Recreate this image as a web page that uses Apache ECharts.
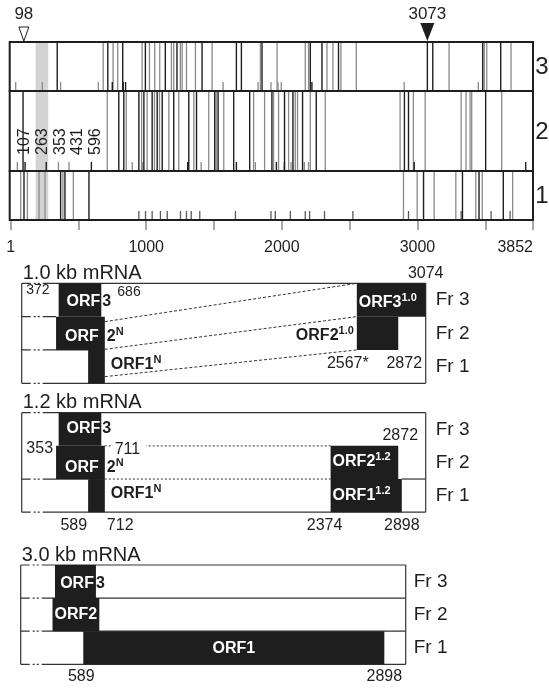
<!DOCTYPE html>
<html>
<head>
<meta charset="utf-8">
<script src="https://cdn.jsdelivr.net/npm/echarts@6/dist/echarts.min.js"></script>
<style>
  html, body { margin: 0; padding: 0; background: #fff; }
  #chart { width: 549px; height: 689px; }
</style>
</head>
<body>
<div id="chart"></div>
<script>
// ---------- genome scale ----------
const genomeMin = 1;
const genomeMax = 3852;
const scaleTicks = [1, 500, 1000, 1500, 2000, 2500, 3000, 3500, 3852];
const scaleLabels = [1, 1000, 2000, 3000, 3852];

// ---------- stop codons (full height) and start codons (short ticks), per frame ----------
const fr3StopDark = [344, 717, 827, 994, 1141, 1227, 1412, 1665, 1702, 1854, 2210, 2296, 2418, 3073, 3113, 3481, 3614];
const fr3StopGrey = [683, 756, 790, 970, 1024, 1063, 1100, 1186, 1203, 1252, 1265, 1297, 1363, 1486, 1842, 1965, 2173, 2197, 2333, 2377, 2436, 2549, 3233, 3493, 3511, 3690];
const fr3StartDark = [750, 830, 848, 2222];
const fr3StartGrey = [38, 234, 369, 647, 1567, 1825, 1920, 1972, 1996, 2902, 3449];

const fr2StopDark = [92, 798, 835, 946, 983, 1044, 1081, 1118, 1203, 1314, 1371, 1505, 1530, 1645, 1763, 1927, 2020, 2082, 2153, 2254, 2904, 2934, 3503];
const fr2StopGrey = [713, 853, 966, 1007, 1061, 1098, 1167, 1240, 1351, 1461, 1516, 1572, 1792, 1873, 1939, 1976, 2050, 2099, 2116, 2210, 2320, 2872, 2970, 3057, 3322, 3358, 3388, 3400, 3621];
const fr2StartDark = [107, 263, 596, 1306, 1665, 1960, 2019, 2976, 3798];
const fr2StartGrey = [50, 353, 431, 897, 975, 1405, 1805, 2068, 2166, 2197];
const fr2StartLabels = [107, 263, 353, 431, 596];

const fr1StopDark = [99, 369, 401, 578, 3045, 3332, 3454, 3633];
const fr1StopGrey = [75, 124, 210, 254, 386, 463, 2897, 2998, 3123, 3283, 3430, 3478, 3702];
const fr1StartGrey = [946, 995, 1044, 1105, 1155, 1253, 1297, 1332, 1395, 1658, 1920, 1952, 2063, 2173, 2205, 2315, 2524, 2934, 3322, 3543, 3683];

const shadedRegion = [185, 278];
const siteOpen = 98;      // open triangle
const siteFilled = 3073;  // filled triangle

// ---------- transcripts: ORF blocks [start, end, frame] ----------
const orfs10 = [[372, 686, 3], [353, 712, 2], [589, 712, 1], [2567, 3074, 3], [2567, 2872, 2]];
const orfs12 = [[372, 686, 3], [353, 712, 2], [589, 712, 1], [2374, 2872, 2], [2374, 2898, 1]];
const orfs30 = [[372, 686, 3], [353, 712, 2], [589, 2898, 1]];

// splice connections [fromPos, fromLevel, toPos, toLevel]
const splice10 = [[712, 1.85, 2567, 3], [712, 1.02, 2567, 2], [712, 0.2, 2567, 1]];
const splice12 = [[711, 2, 2374, 2], [712, 1, 2374, 1]];

const FONT = '"Liberation Sans", Arial, Helvetica, sans-serif';
const INK = '#1e1e1e';
const GREY = '#8a8a8a';

// ---------- layout ----------
const topRows = [
  { frame: 3, top: 42, height: 49 },
  { frame: 2, top: 91, height: 80 },
  { frame: 1, top: 171, height: 49 }
];
const panels = [
  { title: '1.0 kb mRNA', top: 283.3, height: 100, left: 21.7, width: 404, min: 100, max: 3074, frGap: 10 },
  { title: '1.2 kb mRNA', top: 412.7, height: 99.5, left: 21.7, width: 404, min: 100, max: 3074, frGap: 10 },
  { title: '3.0 kb mRNA', top: 565, height: 99.3, left: 20.7, width: 385, min: 109, max: 3062, frGap: 8 }
];

const grids = [], xAxes = [], yAxes = [], series = [];

topRows.forEach((r, i) => {
  grids.push({ left: 10.7, width: 522.3, top: r.top, height: r.height });
  const isBottom = i === topRows.length - 1;
  xAxes.push({
    gridIndex: i, type: 'value', min: genomeMin, max: genomeMax, show: isBottom,
    position: 'bottom', offset: 7,
    axisLine: { show: true, lineStyle: { color: '#8c8c8c', width: 2 } },
    axisTick: { show: true, length: 10, customValues: scaleTicks, lineStyle: { color: '#8c8c8c', width: 1.5 } },
    axisLabel: {
      show: true, customValues: scaleLabels, margin: 13, color: INK, fontSize: 16, fontFamily: FONT,
      alignMaxLabel: 'right', formatter: v => String(v)
    },
    splitLine: { show: false }
  });
  yAxes.push({ gridIndex: i, type: 'value', min: 0, max: 1, show: false });
});
panels.forEach((p, k) => {
  const i = topRows.length + k;
  grids.push({ left: p.left, width: p.width, top: p.top, height: p.height });
  xAxes.push({ gridIndex: i, type: 'value', min: p.min, max: p.max, show: false });
  yAxes.push({ gridIndex: i, type: 'value', min: 0, max: 3, show: false });
});

// ---------- series builders ----------
function base(grid, z) {
  return { type: 'custom', coordinateSystem: 'cartesian2d', xAxisIndex: grid, yAxisIndex: grid, silent: true, animation: false, z: z };
}
function vlines(grid, positions, color, width, tickLen, z) {
  return Object.assign(base(grid, z || 3), {
    data: positions.map(v => [v, 0]),
    renderItem(params, api) {
      const a = api.coord([api.value(0), 0]);
      const y2 = tickLen ? a[1] - tickLen : api.coord([api.value(0), 1])[1];
      return { type: 'line', shape: { x1: a[0], y1: a[1], x2: a[0], y2: y2 }, style: { stroke: color, lineWidth: width } };
    }
  });
}
function segments(grid, data, style, z) {
  return Object.assign(base(grid, z || 3), {
    data: data,
    renderItem(params, api) {
      const a = api.coord([api.value(0), api.value(1)]);
      const b = api.coord([api.value(2), api.value(3)]);
      return { type: 'line', shape: { x1: a[0], y1: a[1], x2: b[0], y2: b[1] }, style: Object.assign({}, style) };
    }
  });
}
function blocks(grid, data, z) {
  return Object.assign(base(grid, z || 4), {
    data: data,
    renderItem(params, api) {
      const f = api.value(2);
      const a = api.coord([api.value(0), f]);
      const b = api.coord([api.value(1), f - 1]);
      return { type: 'rect', shape: { x: a[0], y: a[1], width: b[0] - a[0], height: b[1] - a[1] }, style: { fill: INK } };
    }
  });
}
const SUP = { fontSize: 11, fontWeight: 'bold', fontFamily: FONT, verticalAlign: 'top', lineHeight: 10 };
function texts(grid, items, z) {
  return Object.assign(base(grid, z || 6), {
    data: items.map(it => [it.x, it.y]),
    renderItem(params, api) {
      const it = items[params.dataIndex];
      const pt = api.coord([it.x, it.y]);
      const fill = it.fill || INK;
      const size = it.size || 16;
      const style = {
        text: it.text, x: 0, y: 0, fill: fill,
        fontSize: size, fontFamily: FONT, fontWeight: it.bold ? 'bold' : 'normal',
        align: it.align || 'center', verticalAlign: it.va || 'middle', lineHeight: it.bold ? size + 4 : size + 1,
        rich: { s: Object.assign({ fill: fill }, SUP) }
      };
      if (it.bg) { style.backgroundColor = it.bg; style.padding = it.pad || [0, 0, 0, 0]; }
      return { type: 'text', x: pt[0] + (it.dx || 0), y: pt[1] + (it.dy || 0), rotation: it.rot || 0, style: style };
    }
  });
}

// ---------- top panel: three reading frames ----------
const frameSets = [
  { dark: fr3StopDark, grey: fr3StopGrey, tDark: fr3StartDark, tGrey: fr3StartGrey },
  { dark: fr2StopDark, grey: fr2StopGrey, tDark: fr2StartDark, tGrey: fr2StartGrey },
  { dark: fr1StopDark, grey: fr1StopGrey, tDark: [], tGrey: fr1StartGrey }
];
frameSets.forEach((s, i) => {
  // shaded window
  series.push(Object.assign(base(i, 1), {
    data: [[shadedRegion[0], shadedRegion[1]]],
    renderItem(params, api) {
      const a = api.coord([api.value(0), 1]);
      const b = api.coord([api.value(1), 0]);
      return { type: 'rect', shape: { x: a[0], y: a[1], width: b[0] - a[0], height: b[1] - a[1] }, style: { fill: '#d3d3d3' } };
    }
  }));
  series.push(vlines(i, s.grey, GREY, 1.3, 0, 2));
  series.push(vlines(i, s.dark, INK, 1.4, 0, 3));
  series.push(vlines(i, s.tGrey, i === 2 ? '#5a5a5a' : GREY, 1.3, 9, 2));
  series.push(vlines(i, s.tDark, INK, 1.4, 9, 3));
  // frame outline and frame number
  series.push(Object.assign(base(i, 8), {
    data: [[genomeMin, 0]],
    renderItem(params) {
      const c = params.coordSys;
      return {
        type: 'group', children: [
          { type: 'rect', shape: { x: c.x - 1, y: c.y, width: c.width + 1, height: c.height }, style: { fill: 'none', stroke: INK, lineWidth: 2 } },
          { type: 'text', x: c.x + c.width + 9, y: c.y + c.height / 2 + 1, style: { text: String(topRows[i].frame), fill: INK, fontSize: 24, fontFamily: FONT, align: 'center', verticalAlign: 'middle' } }
        ]
      };
    }
  }));
});

// site markers above frame 3
series.push(Object.assign(base(0, 9), {
  data: [[siteOpen, 0], [siteFilled, 1]],
  renderItem(params, api) {
    const filled = api.value(1) === 1;
    const p = api.coord([api.value(0), 1]);
    const apex = p[1] - 1, topY = filled ? p[1] - 19 : p[1] - 15, hw = filled ? 7 : 5;
    return {
      type: 'group', children: [
        { type: 'polygon', shape: { points: [[p[0] - hw, topY], [p[0] + hw, topY], [p[0], apex]] },
          style: filled ? { fill: INK } : { fill: '#fff', stroke: INK, lineWidth: 1 } },
        { type: 'text', x: p[0], y: 14, style: { text: String(api.value(0)), fill: INK, fontSize: 17, fontFamily: FONT, align: 'center', verticalAlign: 'middle' } }
      ]
    };
  }
}));

// start-codon positions written vertically in frame 2
series.push(Object.assign(base(1, 9), {
  data: fr2StartLabels.map(v => [v, 0]),
  renderItem(params, api) {
    const first = api.coord([fr2StartLabels[0], 0]);
    const x = first[0] + params.dataIndex * 17.6;
    return { type: 'text', x: x, y: first[1] - 16, rotation: Math.PI / 2,
      style: { text: String(api.value(0)), x: 0, y: 0, fill: INK, fontSize: 16, fontFamily: FONT, align: 'left', verticalAlign: 'middle' } };
  }
}));

// ---------- transcript panels ----------
function panelFrame(grid, p, hLines) {
  // box edges and row dividers
  series.push(segments(grid, hLines, { stroke: '#333', lineWidth: 1.2 }, 3));
  // broken-line marks near the 5' end of each horizontal line
  series.push(Object.assign(base(grid, 5), {
    data: hLines.filter(h => h[0] === p.min && h[1] === h[3]).map(h => [h[0], h[1]]),
    renderItem(params, api) {
      const a = api.coord([api.value(0), api.value(1)]);
      const gaps = [[9, 3], [14, 2], [18, 3]];
      return { type: 'group', children: gaps.map(g => ({ type: 'rect', shape: { x: a[0] + g[0], y: a[1] - 2, width: g[1], height: 4 }, style: { fill: '#fff' } })) };
    }
  }));
  // title and frame names
  const items = [{ x: p.min, y: 3, text: p.title, align: 'left', dx: 1, dy: -10, size: 20 }];
  [3, 2, 1].forEach(f => items.push({ x: p.max, y: f - 0.5, text: 'Fr ' + f, align: 'left', dx: p.frGap, size: 19 }));
  return items;
}

// 1.0 kb
{
  const g = 3, p = panels[0];
  const items = panelFrame(g, p, [
    [p.min, 3, p.max, 3], [p.min, 0, p.max, 0], [p.min, 0, p.min, 3], [p.max, 0, p.max, 3],
    [p.min, 2, orfs10[1][0], 2], [p.min, 1, orfs10[2][0], 1]
  ]);
  series.push(blocks(g, orfs10));
  series.push(segments(g, splice10, { stroke: '#333', lineWidth: 1, lineDash: [3, 2] }, 3));
  const W = '#fff';
  items.push(
    { x: orfs10[0][1], y: 2.5, text: 'ORF', align: 'right', dx: -1, dy: 2, bold: true, fill: W },
    { x: orfs10[0][1], y: 2.5, text: '3', align: 'left', dx: 1, dy: 2, bold: true },
    { x: orfs10[1][1], y: 1.5, text: 'ORF', align: 'right', dx: -6, dy: 3, bold: true, fill: W },
    { x: orfs10[1][1], y: 1.5, text: '2{s|N}', align: 'left', dx: 2, dy: 3, bold: true },
    { x: orfs10[2][1], y: 0.5, text: 'ORF1{s|N}', align: 'left', dx: 6, dy: -2, bold: true },
    { x: orfs10[3][0], y: 2.5, text: 'ORF3{s|1.0}', align: 'left', dx: 2, dy: 3, bold: true, fill: W },
    { x: orfs10[4][0], y: 1.5, text: 'ORF2{s|1.0}', align: 'right', dx: -3, dy: 2, bold: true },
    { x: orfs10[0][0], y: 3, text: String(orfs10[0][0]), align: 'right', dx: -9, dy: 7, size: 14 },
    { x: orfs10[0][1], y: 3, text: String(orfs10[0][1]), align: 'left', dx: 16, dy: 9, size: 14 },
    { x: orfs10[3][1], y: 3, text: String(orfs10[3][1]), dy: -10 },
    { x: orfs10[3][0], y: 0.5, text: orfs10[3][0] + '*', dx: -9, dy: -3 },
    { x: orfs10[4][1], y: 0.5, text: String(orfs10[4][1]), dx: 6, dy: -3 }
  );
  series.push(texts(g, items));
}

// 1.2 kb
{
  const g = 4, p = panels[1];
  const items = panelFrame(g, p, [
    [p.min, 3, p.max, 3], [p.min, 0, p.max, 0], [p.min, 0, p.min, 3], [p.max, 0, p.max, 3],
    [p.min, 1, orfs12[2][0], 1], [orfs12[4][1], 1, p.max, 1]
  ]);
  series.push(blocks(g, orfs12));
  series.push(segments(g, splice12, { stroke: '#333', lineWidth: 1, lineDash: [2, 2] }, 3));
  const W = '#fff';
  items.push(
    { x: orfs12[0][1], y: 2.5, text: 'ORF', align: 'right', dx: -1, dy: -1, bold: true, fill: W },
    { x: orfs12[0][1], y: 2.5, text: '3', align: 'left', dx: 1, dy: -1, bold: true },
    { x: orfs12[1][1], y: 1.5, text: 'ORF', align: 'right', dx: -6, dy: 5, bold: true, fill: W },
    { x: orfs12[1][1], y: 1.5, text: '2{s|N}', align: 'left', dx: 2, dy: 5, bold: true },
    { x: orfs12[2][1], y: 0.5, text: 'ORF1{s|N}', align: 'left', dx: 6, dy: -2, bold: true },
    { x: orfs12[3][0], y: 1.5, text: 'ORF2{s|1.2}', align: 'left', dx: 2, dy: -1, bold: true, fill: W },
    { x: orfs12[4][0], y: 0.5, text: 'ORF1{s|1.2}', align: 'left', dx: 2, dy: 0, bold: true, fill: W },
    { x: orfs12[1][0], y: 2, text: String(orfs12[1][0]), align: 'right', dx: -3, dy: 3 },
    { x: splice12[0][0], y: 2, text: String(splice12[0][0]), align: 'left', dx: 8, dy: 4, bg: '#fff', pad: [0, 6, 0, 2] },
    { x: orfs12[3][1], y: 2, text: String(orfs12[3][1]), dx: 2, dy: -10 },
    { x: orfs12[2][0], y: 0, text: String(orfs12[2][0]), align: 'right', dx: -1, dy: 13 },
    { x: orfs12[2][1], y: 0, text: String(orfs12[2][1]), align: 'left', dx: 2, dy: 13 },
    { x: orfs12[4][0], y: 0, text: String(orfs12[4][0]), dx: -6, dy: 13 },
    { x: orfs12[4][1], y: 0, text: String(orfs12[4][1]), dy: 13 }
  );
  series.push(texts(g, items));
}

// 3.0 kb
{
  const g = 5, p = panels[2];
  const items = panelFrame(g, p, [
    [p.min, 3, p.max, 3], [p.min, 0, p.max, 0], [p.min, 0, p.min, 3], [p.max, 0, p.max, 3],
    [p.min, 2, p.max, 2], [p.min, 1, p.max, 1]
  ]);
  series.push(blocks(g, orfs30));
  const W = '#fff';
  items.push(
    { x: orfs30[0][1], y: 2.5, text: 'ORF', align: 'right', dx: -2, dy: 2, bold: true, fill: W },
    { x: orfs30[0][1], y: 2.5, text: '3', align: 'left', dx: 0, dy: 2, bold: true },
    { x: orfs30[1][0], y: 1.5, text: 'ORF2', align: 'left', dx: 2, dy: 0, bold: true, fill: W },
    { x: (orfs30[2][0] + orfs30[2][1]) / 2, y: 0.5, text: 'ORF1', dy: 1, bold: true, fill: W },
    { x: orfs30[2][0], y: 0, text: String(orfs30[2][0]), dx: -2, dy: 12 },
    { x: orfs30[2][1], y: 0, text: String(orfs30[2][1]), dy: 12 }
  );
  series.push(texts(g, items));
}

const chart = echarts.init(document.getElementById('chart'), null, { renderer: 'canvas', width: 549, height: 689 });
chart.setOption({
  animation: false,
  backgroundColor: '#fff',
  grid: grids,
  xAxis: xAxes,
  yAxis: yAxes,
  series: series
});
</script>
</body>
</html>
